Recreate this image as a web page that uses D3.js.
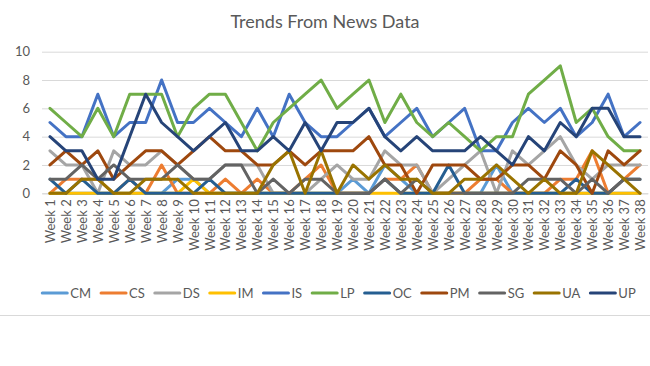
<!DOCTYPE html>
<html>
<head>
<meta charset="utf-8">
<script src="https://cdnjs.cloudflare.com/ajax/libs/d3/7.8.5/d3.min.js"></script>
<style>
  body { margin: 0; background: #fff; }
  svg { display: block; font-family: Lato, "Open Sans", sans-serif; }
</style>
</head>
<body>
<svg width="650" height="366"></svg>
<script>
var weeks = ['Week 1', 'Week 2', 'Week 3', 'Week 4', 'Week 5', 'Week 6', 'Week 7', 'Week 8', 'Week 9', 'Week 10',
             'Week 11', 'Week 12', 'Week 13', 'Week 14', 'Week 15', 'Week 16', 'Week 17', 'Week 18', 'Week 19', 'Week 20',
             'Week 21', 'Week 22', 'Week 23', 'Week 24', 'Week 25', 'Week 26', 'Week 27', 'Week 28', 'Week 29', 'Week 30',
             'Week 31', 'Week 32', 'Week 33', 'Week 34', 'Week 35', 'Week 36', 'Week 37', 'Week 38']

var yTicks = [0, 2, 4, 6, 8, 10]

var seriesNames = ['CM', 'CS', 'DS', 'IM', 'IS', 'LP', 'OC', 'PM', 'SG', 'UA', 'UP']

var cmCounts = [0,0,0,0,0,0,0,0,1,1, 0,0,0,0,0,0,0,0,0,1, 0,2,1,0,0,0,0,0,2,0, 0,0,0,0,0,0,0,0]
var csCounts = [0,1,1,1,0,1,0,2,0,0, 0,1,0,1,0,0,1,2,0,0, 0,1,1,2,0,0,0,1,1,0, 0,0,1,1,3,0,1,2]
var dsCounts = [3,2,2,0,3,2,2,3,2,1, 1,2,2,2,0,0,0,1,2,1, 1,3,2,2,0,1,2,3,0,3, 2,3,4,2,1,2,2,2]
var imCounts = [0,0,0,0,0,0,0,0,0,1, 0,0,0,0,0,0,0,0,0,0, 0,0,0,0,0,0,0,0,0,0, 0,0,0,0,0,0,0,0]
var isCounts = [5,4,4,7,4,5,5,8,5,5, 6,5,4,6,4,7,5,4,4,5, 6,4,5,6,4,5,6,3,3,5, 6,5,6,4,5,7,4,5]
var lpCounts = [6,5,4,6,4,7,7,7,4,6, 7,7,5,3,5,6,7,8,6,7, 8,5,7,5,4,5,4,3,4,4, 7,8,9,5,6,4,3,3]
var ocCounts = [1,0,1,0,0,1,0,0,0,0, 1,0,0,0,0,0,0,0,0,0, 0,1,0,0,0,2,0,0,0,0, 0,0,0,1,0,0,1,1]
var pmCounts = [2,3,2,3,1,2,3,3,2,3, 4,3,3,2,2,3,2,3,3,3, 4,2,2,0,2,2,2,1,1,2, 2,1,3,2,0,3,2,3]
var sgCounts = [1,1,2,1,2,1,1,1,2,1, 1,2,2,0,1,0,1,1,0,0, 0,1,0,1,0,0,0,0,0,0, 1,1,1,0,1,0,1,1]
var uaCounts = [0,0,1,1,0,0,1,1,1,0, 0,0,0,0,2,3,0,3,0,2, 1,2,1,1,0,0,1,1,2,1, 0,1,0,0,3,2,1,0]
var upCounts = [4,3,3,1,1,4,7,5,4,3, 4,5,3,3,4,3,5,3,5,5, 6,4,3,4,3,3,3,4,3,2, 4,3,5,4,6,6,4,4]

var colors = ['#5B9BD5', '#ED7D31', '#A5A5A5', '#FFC000', '#4472C4', '#70AD47',
              '#255E91', '#9E480E', '#636363', '#997300', '#264478']

var allCounts = [cmCounts, csCounts, dsCounts, imCounts, isCounts, lpCounts,
                 ocCounts, pmCounts, sgCounts, uaCounts, upCounts]
var series = seriesNames.map(function (name, i) {
    return { name: name, values: allCounts[i], color: colors[i] }
})

var svg = d3.select('svg')
var textColor = '#595959'

var x_scale = d3.scalePoint()
    .domain(weeks)
    .range([42, 648])
    .padding(0.5)

var y_scale = d3.scaleLinear()
    .domain([0, 10])
    .range([193.3, 51.7])

// title
svg.append('text')
    .attr('x', 325)
    .attr('y', 28)
    .attr('text-anchor', 'middle')
    .style('font-size', '18px')
    .style('fill', textColor)
    .text('Trends From News Data')

// gridlines + y labels
var y_axis = d3.axisLeft()
    .scale(y_scale)
    .tickValues(yTicks)
    .tickSize(-606)
    .tickPadding(12)

var gy = svg.append('g')
    .attr('transform', 'translate(42,0)')
    .call(y_axis)
gy.select('.domain').remove()
gy.selectAll('line').attr('stroke', '#d9d9d9')
gy.selectAll('text')
    .style('font-size', '13px')
    .style('fill', textColor)
    .style('font-family', 'Lato, sans-serif')

// category axis
var x_axis = d3.axisBottom()
    .scale(x_scale)
    .tickSize(0)

var gx = svg.append('g')
    .attr('transform', 'translate(0,' + y_scale(0) + ')')
    .call(x_axis)
gx.select('.domain').attr('stroke', '#d9d9d9')
gx.selectAll('text')
    .attr('transform', 'rotate(-90)')
    .attr('text-anchor', 'end')
    .attr('x', -6)
    .attr('y', 0)
    .attr('dy', '0.35em')
    .style('font-size', '13px')
    .style('fill', textColor)
    .style('font-family', 'Lato, sans-serif')

var line = d3.line()
    .x(function (d, i) { return x_scale(weeks[i]) })
    .y(function (d) { return y_scale(d) })

svg.append('g')
    .selectAll('path')
    .data(series)
    .enter()
    .append('path')
    .attr('d', function (d) { return line(d.values) })
    .attr('fill', 'none')
    .attr('stroke', function (d) { return d.color })
    .attr('stroke-width', 3)
    .attr('stroke-linejoin', 'round')
    .attr('stroke-linecap', 'round')

// legend
var legend = svg.append('g')
var lx = 0
series.forEach(function (s) {
    var item = legend.append('g').attr('transform', 'translate(' + lx + ',0)')
    item.append('line')
        .attr('x1', 0).attr('x2', 25)
        .attr('y1', 0).attr('y2', 0)
        .attr('stroke', s.color)
        .attr('stroke-width', 3)
        .attr('stroke-linecap', 'round')
    var t = item.append('text')
        .attr('x', 28)
        .attr('y', 0)
        .attr('dy', '0.35em')
        .style('font-size', '13px')
        .style('fill', textColor)
        .text(s.name)
    lx += 28 + t.node().getComputedTextLength() + 10
})
legend.attr('transform', 'translate(' + (339 - (lx - 10) / 2) + ',293)')

// bottom border of chart area
svg.append('line')
    .attr('x1', 0).attr('x2', 650)
    .attr('y1', 315.5).attr('y2', 315.5)
    .attr('stroke', '#d9d9d9')
    .attr('stroke-width', 1)
</script>
</body>
</html>
